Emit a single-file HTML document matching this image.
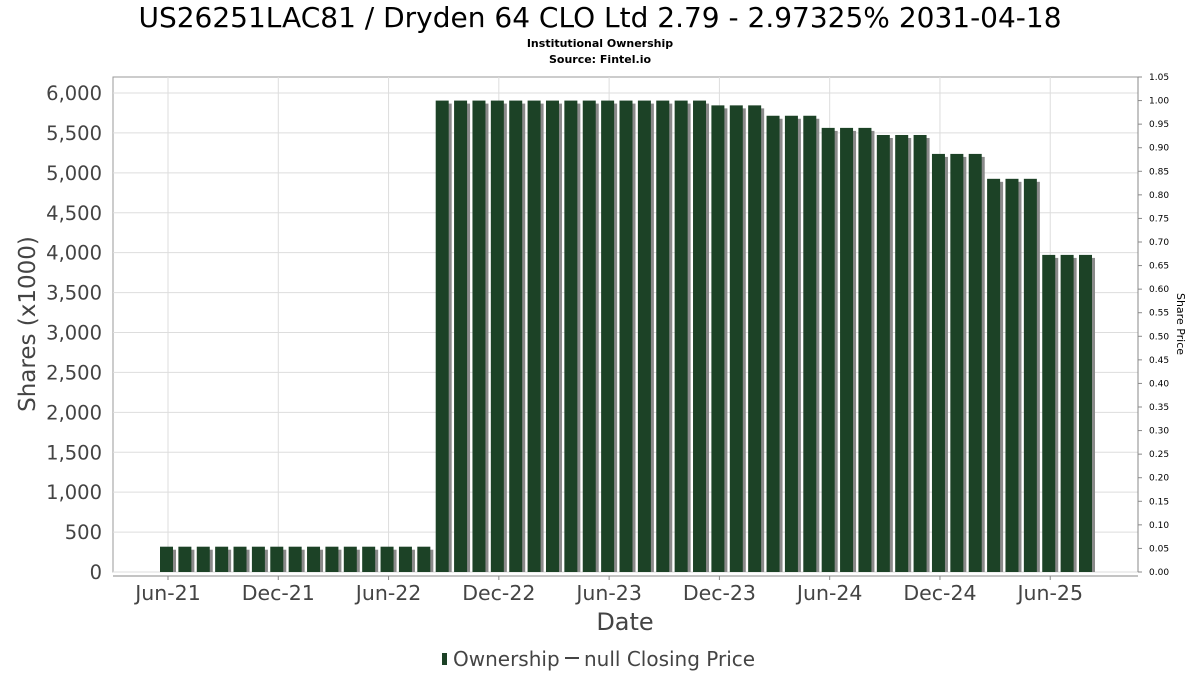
<!DOCTYPE html>
<html><head><meta charset="utf-8"><style>
body{margin:0;background:#fff;}
svg{display:block;font-family:"DejaVu Sans","Liberation Sans",sans-serif;}
</style></head><body>
<svg id="chart" width="1200" height="675" viewBox="0 0 1200 675" xmlns="http://www.w3.org/2000/svg">
<rect width="1200" height="675" fill="#fff"/>
<text x="600" y="27" text-anchor="middle" font-size="28" fill="#000">US26251LAC81 / Dryden 64 CLO Ltd 2.79 - 2.97325% 2031-04-18</text>
<text x="600" y="47" text-anchor="middle" font-size="11" font-weight="bold" fill="#000">Institutional Ownership</text>
<text x="600" y="63" text-anchor="middle" font-size="11" font-weight="bold" fill="#000">Source: Fintel.io</text>
<rect x="113" y="77" width="1025" height="495" fill="#fff" stroke="#999" stroke-width="1"/>
<g id="grid"></g>
<g id="bars"></g>
<g id="axes"></g>
<text transform="translate(35,324) rotate(-90)" text-anchor="middle" font-size="23" fill="#444">Shares (x1000)</text>
<text transform="translate(1177,324) rotate(90)" text-anchor="middle" font-size="11" fill="#000">Share Price</text>
<text x="625" y="630" text-anchor="middle" font-size="24" fill="#444">Date</text>
<g>
<rect x="442" y="653" width="5" height="12" fill="#1c4226"/>
<text x="453" y="666" font-size="20" fill="#444">Ownership</text>
<line x1="565" y1="658" x2="579" y2="658" stroke="#444" stroke-width="2"/>
<text x="584" y="666" font-size="20" fill="#444">null Closing Price</text>
</g>
</svg>
<script>
const categories = ["Jun-21","Jul-21","Aug-21","Sep-21","Oct-21","Nov-21","Dec-21","Jan-22","Feb-22","Mar-22","Apr-22","May-22","Jun-22","Jul-22","Aug-22","Sep-22","Oct-22","Nov-22","Dec-22","Jan-23","Feb-23","Mar-23","Apr-23","May-23","Jun-23","Jul-23","Aug-23","Sep-23","Oct-23","Nov-23","Dec-23","Jan-24","Feb-24","Mar-24","Apr-24","May-24","Jun-24","Jul-24","Aug-24","Sep-24","Oct-24","Nov-24","Dec-24","Jan-25","Feb-25","Mar-25","Apr-25","May-25","Jun-25","Jul-25","Aug-25"];
const ownership = [317,317,317,317,317,317,317,317,317,317,317,317,317,317,317,
5905,5905,5905,5905,5905,5905,5905,5905,5905,5905,5905,5905,5905,5905,5905,
5845,5845,5845,5715,5715,5715,5563,5563,5563,5474,5474,5474,5237,5237,5237,4925,4925,4925,3972,3972,3972];
const yTicks = [0,500,1000,1500,2000,2500,3000,3500,4000,4500,5000,5500,6000];
const y2Ticks = [0,0.05,0.1,0.15,0.2,0.25,0.3,0.35,0.4,0.45,0.5,0.55,0.6,0.65,0.7,0.75,0.8,0.85,0.9,0.95,1.0,1.05];
const xTickLabels = ["Jun-21","Dec-21","Jun-22","Dec-22","Jun-23","Dec-23","Jun-24","Dec-24","Jun-25"];

const NS="http://www.w3.org/2000/svg";
const PL=113,PR=1138,PT=77,PB=572;
const yScale = v => PB - v*(PB-93)/6000;
const y2Scale = v => PB - v*(PB-PT)/1.05;
const xScale = i => 167 + i*18.38;
function mk(tag,attrs,parent){const e=document.createElementNS(NS,tag);for(const k in attrs)e.setAttribute(k,attrs[k]);parent.appendChild(e);return e;}
const grid=document.getElementById('grid'),bars=document.getElementById('bars'),axes=document.getElementById('axes');

yTicks.forEach(v=>{
  const y=yScale(v);
  const g=mk('line',{x1:PL,x2:PR,y1:y,y2:y,stroke:'#ddd','stroke-width':1},grid);
  
  
  const t=mk('text',{x:102,y:y+7,'text-anchor':'end','font-size':19.5,fill:'#444'},axes);
  t.textContent=v.toLocaleString('en-US');
  
  
});
y2Ticks.forEach(v=>{
  const y=y2Scale(v);
  mk('line',{x1:PR,x2:PR+4,y1:y,y2:y,stroke:'#888'},axes);
  const t=mk('text',{x:PR+11,y:y+3,'font-size':9,fill:'#000'},axes);
  t.textContent=v.toFixed(2);
  
  
});
xTickLabels.forEach(lbl=>{
  const i=categories.indexOf(lbl);
  const x=xScale(i)+1;
  const g=mk('line',{x1:x,x2:x,y1:PT,y2:PB,stroke:'#ddd'},grid);
  
  
  mk('line',{x1:x,x2:x,y1:576,y2:580,stroke:'#888'},axes);
  const t=mk('text',{x:x,y:600,'text-anchor':'middle','font-size':20.5,fill:'#444'},axes);
  t.textContent=lbl;
  
  
});
mk('line',{x1:PL,x2:PR,y1:576,y2:576,stroke:'#888'},axes);
mk('line',{x1:PR,x2:PR,y1:PT,y2:PB,stroke:'#888'},axes);

ownership.forEach((v,i)=>{
  const x=xScale(i)-7, y=yScale(v), h=PB-y;
  const s=mk('rect',{x:x+3,y:y+3,width:13,height:h-3,fill:'#8a8a8a'},bars);
  
  
  const b=mk('rect',{x:x,y:y,width:13,height:h,fill:'#1c4226'},bars);
  
  
});
</script>
</body></html>
